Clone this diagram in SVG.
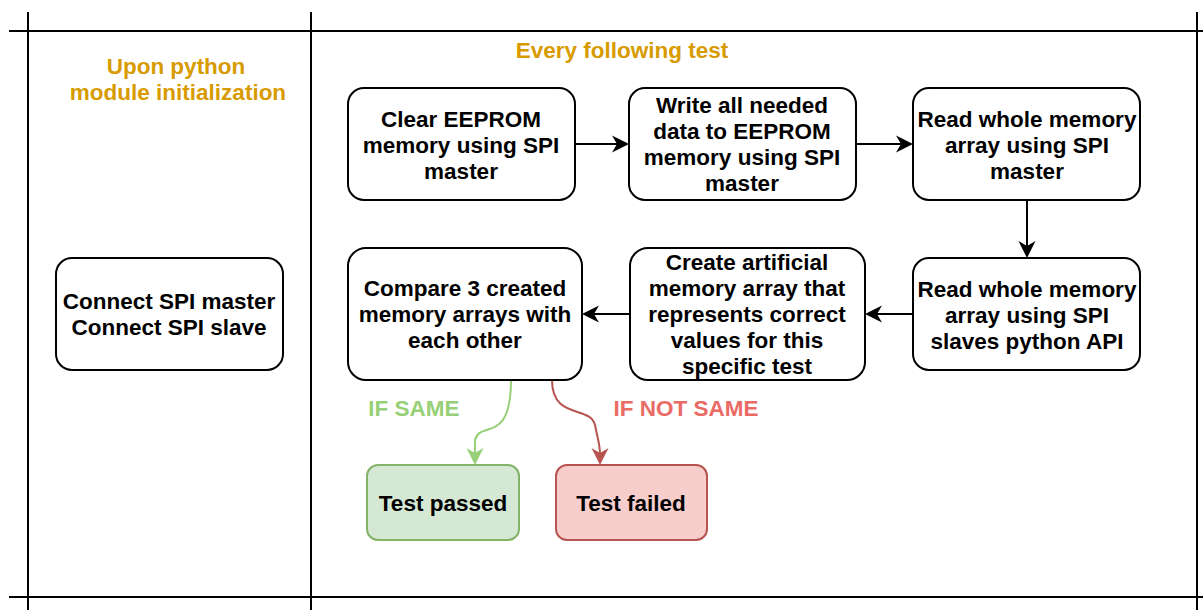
<svg xmlns="http://www.w3.org/2000/svg" width="1203" height="610" viewBox="0 0 1203 610">
<style>
.n{fill:#fff;stroke:#000;stroke-width:2}
.t{font-family:"Liberation Sans",Arial,sans-serif;font-weight:bold;font-size:22.5px;text-anchor:middle;fill:#000}
.h{font-family:"Liberation Sans",Arial,sans-serif;font-weight:bold;font-size:22.5px;text-anchor:middle;fill:#d79b00}
.l{fill:none;stroke:#000;stroke-width:2}
.c{fill:none;stroke:#000;stroke-width:2}
</style>
<defs>
<path id="ah" d="M0,0 L-17,-8.5 L-12,0 L-17,8.5 Z"/>
</defs>
<rect width="1203" height="610" fill="#fff"/>
<g id="lanes">
<line class="l" x1="9" y1="31" x2="1203" y2="31"/>
<line class="l" x1="9" y1="597" x2="1203" y2="597"/>
<line class="l" x1="28" y1="12" x2="28" y2="610"/>
<line class="l" x1="311" y1="12" x2="311" y2="610"/>
<line class="l" x1="1197" y1="12" x2="1197" y2="610"/>
<text class="h" x="176" y="74">Upon python</text>
<text class="h" x="178" y="100">module initialization</text>
<text class="h" x="622" y="58">Every following test</text>
</g>
<g id="connectors">
<line class="c" x1="575" y1="144" x2="618" y2="144"/>
<use href="#ah" transform="translate(629,144)" fill="#000"/>
<line class="c" x1="856" y1="144" x2="902" y2="144"/>
<use href="#ah" transform="translate(913,144)" fill="#000"/>
<line class="c" x1="1027" y1="200" x2="1027" y2="247"/>
<use href="#ah" transform="translate(1027,258) rotate(90)" fill="#000"/>
<line class="c" x1="913" y1="314" x2="876" y2="314"/>
<use href="#ah" transform="translate(865,314) rotate(180)" fill="#000"/>
<line class="c" x1="630" y1="314" x2="593" y2="314"/>
<use href="#ah" transform="translate(582,314) rotate(180)" fill="#000"/>
<path d="M511,380 C511,445 480,420 475,440 L475,454" fill="none" stroke="#97d077" stroke-width="2"/>
<use href="#ah" transform="translate(475,465) rotate(90)" fill="#97d077"/>
<path d="M552,380 C552,420 590,405 595,425 C598,440 600,445 600,454" fill="none" stroke="#b85450" stroke-width="2"/>
<use href="#ah" transform="translate(600,465) rotate(90)" fill="#b85450"/>
<text x="414" y="416" font-family="Liberation Sans,Arial,sans-serif" font-weight="bold" font-size="22.5" fill="#97d077" text-anchor="middle">IF SAME</text>
<text x="686" y="416" font-family="Liberation Sans,Arial,sans-serif" font-weight="bold" font-size="22.5" fill="#ea6b66" text-anchor="middle">IF NOT SAME</text>
</g>
<g id="n1"><rect class="n" x="348" y="88" width="227" height="112" rx="16"/>
<text class="t" x="461" y="127">Clear EEPROM</text><text class="t" x="461" y="153">memory using SPI</text><text class="t" x="461" y="179">master</text></g>
<g id="n2"><rect class="n" x="629" y="88" width="227" height="112" rx="16"/>
<text class="t" x="742" y="113">Write all needed</text><text class="t" x="742" y="139">data to EEPROM</text><text class="t" x="742" y="165">memory using SPI</text><text class="t" x="742" y="191">master</text></g>
<g id="n3"><rect class="n" x="913" y="88" width="227" height="112" rx="16"/>
<text class="t" x="1027" y="127">Read whole memory</text><text class="t" x="1027" y="153">array using SPI</text><text class="t" x="1027" y="179">master</text></g>
<g id="n4"><rect class="n" x="913" y="258" width="227" height="112" rx="16"/>
<text class="t" x="1027" y="297">Read whole memory</text><text class="t" x="1027" y="323">array using SPI</text><text class="t" x="1027" y="349">slaves python API</text></g>
<g id="n5"><rect class="n" x="630" y="248" width="235" height="132" rx="18"/>
<text class="t" x="747" y="270">Create artificial</text><text class="t" x="747" y="296">memory array that</text><text class="t" x="747" y="322">represents correct</text><text class="t" x="747" y="348">values for this</text><text class="t" x="747" y="374">specific test</text></g>
<g id="n6"><rect class="n" x="348" y="248" width="234" height="132" rx="18"/>
<text class="t" x="465" y="296">Compare 3 created</text><text class="t" x="465" y="322">memory arrays with</text><text class="t" x="465" y="348">each other</text></g>
<g id="n7"><rect class="n" x="56" y="258" width="227" height="112" rx="16"/>
<text class="t" x="169" y="309">Connect SPI master</text><text class="t" x="169" y="335">Connect SPI slave</text></g>
<g id="n8"><rect x="367" y="465" width="152" height="75" rx="11" fill="#d5e8d4" stroke="#82b366" stroke-width="2"/>
<text class="t" x="443" y="511">Test passed</text></g>
<g id="n9"><rect x="556" y="465" width="151" height="75" rx="11" fill="#f8cecc" stroke="#b85450" stroke-width="2"/>
<text class="t" x="631" y="511">Test failed</text></g>
</svg>
